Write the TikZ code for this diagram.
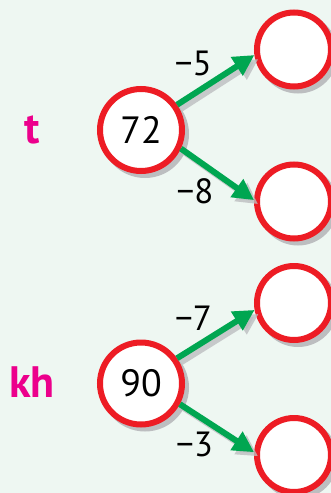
\documentclass[tikz,border=0pt]{standalone}
\usepackage{fontspec}
\setmainfont{PT Sans}
\usetikzlibrary{arrows.meta}
\definecolor{ringred}{HTML}{ED1C24}
\definecolor{arrgreen}{HTML}{00A651}
\definecolor{shadowgray}{HTML}{BCBEC0}
\definecolor{bgmint}{HTML}{EEF7F2}
\definecolor{lettermag}{HTML}{EC008C}

\begin{document}
\begin{tikzpicture}[x=1pt,y=-1pt,>={Triangle[length=21pt,width=21pt]},
  big/.style={circle,draw=ringred,line width=6pt,fill=white,minimum size=82pt,inner sep=0pt,font=\fontsize{38}{38}\selectfont},
  small/.style={circle,draw=ringred,line width=6pt,fill=white,minimum size=74pt,inner sep=0pt},
  arr/.style={->,line width=6pt,arrgreen},
  shade/.style={->,line width=6pt,shadowgray,opacity=.8,transform canvas={xshift=4pt,yshift=-4pt}},
  lbl/.style={font=\fontsize{35}{35}\selectfont,text=black,inner sep=1pt},
  letter/.style={font=\fontsize{44}{44}\selectfont\bfseries,text=lettermag}]
  \useasboundingbox (0,0) rectangle (331,493);
  \fill[bgmint] (0,0) rectangle (331,493);
  % shadows of the circles
  \fill[shadowgray] (145,134) circle (44) (145,387.5) circle (44);
  \foreach \y in {49.5,201.5,303,455} \fill[shadowgray] (298,\y+4) circle (40);
  % circles
  \node[big] (n72) at (141,130) {72};
  \node[small] (a1) at (294,49.5) {};
  \node[small] (a2) at (294,201.5) {};
  \node[big] (n90) at (141,383.5) {90};
  \node[small] (b1) at (294,303) {};
  \node[small] (b2) at (294,455) {};
  \node[letter] (lt) at (32,130) {t};
  \node[letter] (lkh) at (32,382) {kh};
  % arrows
  \draw[shade] (n72.35)--(a1.188);
  \draw[shade] (n72.-25)--(a2.178);
  \draw[shade] (n90.35)--(b1.190);
  \draw[shade] (n90.-28)--(b2.176);
  \draw[arr] (n72.35)--(a1.188) node[midway,above left,lbl]{−5};
  \draw[arr] (n72.-25)--(a2.178) node[midway,below left,lbl]{−8};
  \draw[arr] (n90.35)--(b1.190) node[midway,above left,lbl]{−7};
  \draw[arr] (n90.-28)--(b2.176) node[midway,below left,lbl]{−3};
\end{tikzpicture}
\end{document}
